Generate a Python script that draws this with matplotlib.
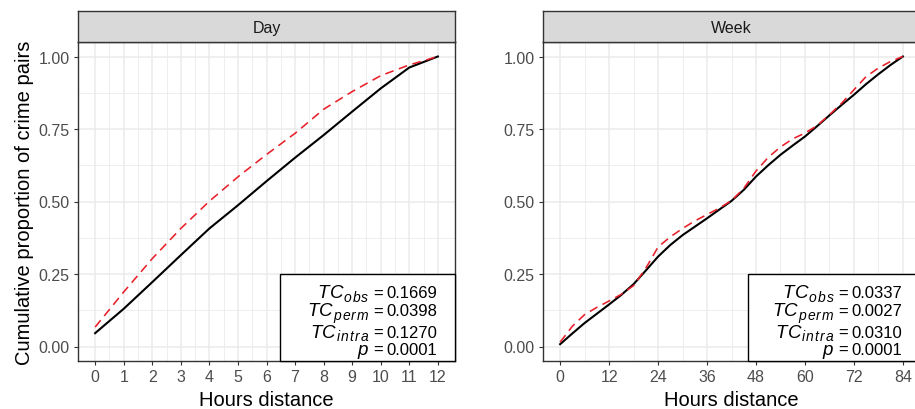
import numpy as np
import matplotlib
matplotlib.use("Agg")
import matplotlib.pyplot as plt
from matplotlib.patches import Rectangle

plt.rcParams['font.family'] = ['Liberation Sans', 'DejaVu Sans']

# Day panel (hours 0..12)
day_hours = np.arange(0, 13)
day_obs = [0.046, 0.130, 0.222, 0.315, 0.407, 0.487, 0.570, 0.651, 0.729, 0.810, 0.890, 0.962, 1.0]
day_perm = [0.067, 0.188, 0.303, 0.407, 0.501, 0.585, 0.662, 0.735, 0.818, 0.879, 0.934, 0.971, 1.0]

# Week panel (hours 0..84, every 3 h)
week_hours = np.arange(0, 85, 3)
week_obs = [0.008, 0.045, 0.081, 0.113, 0.145, 0.178, 0.215, 0.262, 0.310, 0.350,
            0.384, 0.413, 0.442, 0.472, 0.502, 0.540, 0.586, 0.625, 0.661, 0.693,
            0.724, 0.760, 0.797, 0.833, 0.868, 0.905, 0.939, 0.971, 1.0]
week_perm = [0.015, 0.070, 0.110, 0.135, 0.157, 0.180, 0.210, 0.270, 0.343, 0.378,
             0.407, 0.433, 0.455, 0.477, 0.503, 0.545, 0.605, 0.652, 0.688, 0.716,
             0.736, 0.762, 0.799, 0.839, 0.885, 0.931, 0.960, 0.983, 1.0]

day_stats = ['0.1669', '0.0398', '0.1270', '0.0001']
week_stats = ['0.0337', '0.0027', '0.0310', '0.0001']
stat_main = ['TC', 'TC', 'TC', 'p']
stat_sub = ['obs', 'perm', 'intra', '']

W, H = 915, 410
fig = plt.figure(figsize=(W / 100, H / 100), dpi=100)
renderer = fig.canvas.get_renderer()

grid_col = '#EBEBEB'
border_col = '#333333'


def ftext(xpix, ypix, s, **kw):
    # place text in pixel coords (from top-left), return left edge in pixels
    t = fig.text(xpix / W, (H - ypix) / H, s, ha='right', va='baseline', **kw)
    bb = t.get_window_extent(renderer)
    return xpix - bb.width


def tracked(xpix, ypix, s, track, **kw):
    # right-aligned text drawn char by char with extra letter spacing
    for ch in reversed(s):
        xpix = ftext(xpix, ypix, ch, **kw) - track
    return xpix + track


def stat_box(right_pix, stats):
    baselines = [298.5, 316.5, 338, 355]
    for i in range(4):
        y = baselines[i]
        x = ftext(right_pix, y, stats[i], fontsize=12)
        x = ftext(x - 3, y, '=', fontsize=12)
        x -= 5
        if stat_sub[i]:
            x = tracked(x, y + 3.5, stat_sub[i], 1.2, fontsize=10, style='italic')
        tracked(x - 0.5, y, stat_main[i], 0.8, fontsize=13.5, style='italic')


def panel(x0, title, xs, obs, perm, xlim, xmaj, xmin, stats):
    ax = fig.add_axes([x0 / W, (H - 362) / H, 377 / W, 319 / H])
    ax.plot(xs, obs, color='black', lw=1.5, zorder=3)
    ax.plot(xs, perm, color='#E8202A', lw=1.15, dashes=(5.5, 3.5), zorder=3)
    ax.set_xlim(xlim)
    ax.set_ylim(-0.05, 1.05)
    ax.set_xticks(xmaj)
    ax.set_xticks(xmin, minor=True)
    ax.set_yticks([0, 0.25, 0.5, 0.75, 1.0])
    ax.set_yticklabels(['0.00', '0.25', '0.50', '0.75', '1.00'])
    ax.set_yticks([0.125, 0.375, 0.625, 0.875], minor=True)
    ax.grid(which='major', color=grid_col, lw=1.1, zorder=0)
    ax.grid(which='minor', color=grid_col, lw=0.6, zorder=0)
    ax.set_axisbelow(True)
    ax.tick_params(which='major', length=3, width=0.8, color=border_col,
                   labelsize=11.5, labelcolor='#4D4D4D', pad=3)
    ax.tick_params(which='minor', length=0)
    for s in ax.spines.values():
        s.set_color(border_col)
        s.set_linewidth(1.0)
    ax.set_xlabel('Hours distance', fontsize=14.5, labelpad=4)

    # stats box
    bx = (280 - 78) / 377 if x0 < 300 else (748 - 543) / 377
    ax.add_patch(Rectangle((bx, 0), 1 - bx, (362 - 275) / 319, transform=ax.transAxes,
                           facecolor='white', edgecolor='black', lw=1.0, zorder=5,
                           clip_on=False))
    stat_box(x0 + 359, stats)

    # facet strip
    st = fig.add_axes([x0 / W, (H - 43) / H, 377 / W, 31 / H])
    st.set_facecolor('#D9D9D9')
    st.set_xticks([])
    st.set_yticks([])
    for s in st.spines.values():
        s.set_color(border_col)
        s.set_linewidth(1.0)
    st.text(0.5, 0.48, title, ha='center', va='center', fontsize=11.5, color='#1A1A1A',
            transform=st.transAxes)
    return ax


ax1 = panel(78, 'Day', day_hours, day_obs, day_perm, (-0.6, 12.6),
            np.arange(0, 13, 1), np.arange(0.5, 12, 1), day_stats)
ax1.set_ylabel('Cumulative proportion of crime pairs', fontsize=14.5, labelpad=3)

ax2 = panel(543, 'Week', week_hours, week_obs, week_perm, (-4.2, 88.2),
            np.arange(0, 85, 12), np.arange(6, 85, 12), week_stats)

fig.savefig('out.png', dpi=100)
